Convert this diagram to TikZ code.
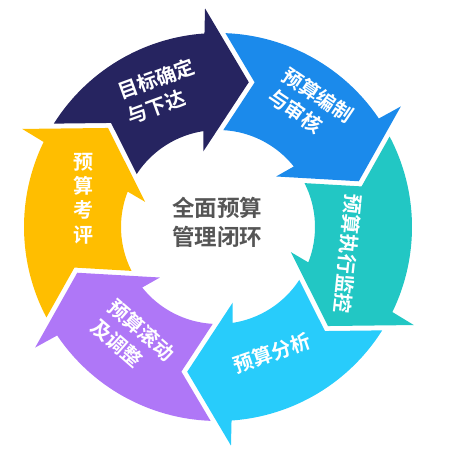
\documentclass[tikz,border=0pt]{standalone}
\usepackage{fontspec}
\newfontfamily\cjk{Noto Sans CJK SC}[BoldFont={Noto Sans CJK SC Bold}]
\definecolor{cnavy}{RGB}{38,36,96}
\definecolor{cblue}{RGB}{27,138,235}
\definecolor{cteal}{RGB}{34,199,196}
\definecolor{csky}{RGB}{40,204,251}
\definecolor{cpurple}{RGB}{175,119,247}
\definecolor{cyellow}{RGB}{255,190,0}
\definecolor{cgray}{RGB}{85,85,85}
\begin{document}
\begin{tikzpicture}[x=1pt,y=1pt,
  seglabel/.style={text=white,font=\cjk\bfseries\fontsize{20}{26}\selectfont,inner sep=0pt},
  centerlabel/.style={text=cgray,font=\cjk\bfseries\fontsize{22.5}{29}\selectfont,align=center,inner sep=0pt}]
\useasboundingbox (0,0) rectangle (450,457);
\begin{scope}[shift={(218,230)}]
\foreach \p/\c in {78/cnavy,18/cblue,-42/cteal,-102/csky,-162/cpurple,-222/cyellow}{
  \pgfmathsetmacro\aA{\p+69.8}
  \pgfmathsetmacro\aB{\p+16}
  \pgfmathsetmacro\aC{\p+15.4}
  \pgfmathsetmacro\aD{\p+23}
  \pgfmathsetmacro\aE{\p+20.6}
  \pgfmathsetmacro\aF{\p+68.9}
  \pgfmathsetmacro\aG{\p+57.78}
  \fill[\c] (\aA:194pt) arc[start angle=\aA,end angle=\aB,radius=194pt]
    -- (\aC:219pt) -- (\p:148pt) -- (\aD:77pt) -- (\aE:97pt)
    arc[start angle=\aE,end angle=\aF,radius=97pt]
    -- (\aG:149.2pt) -- cycle;
}
\end{scope}
\node[seglabel,align=left,rotate=20] (t1) at (161,366) {目标确定\\与下达};
\node[seglabel,align=left,rotate=-34] (t2) at (311,351) {预算编制\\与审核};
\node[seglabel,rotate=-96] (t3) at (348,203) {预算执行监控};
\node[seglabel,rotate=19] (t4) at (272,104) {预算分析};
\node[seglabel,align=left,rotate=-41] (t5) at (133,117) {预算滚动\\及调整};
\node[seglabel,align=center,font=\cjk\bfseries\fontsize{20}{24.3}\selectfont] (t6) at (83,258.5) {预\\算\\考\\评};
\node[centerlabel] (c) at (217,235) {全面预算\\管理闭环};
\end{tikzpicture}
\end{document}
